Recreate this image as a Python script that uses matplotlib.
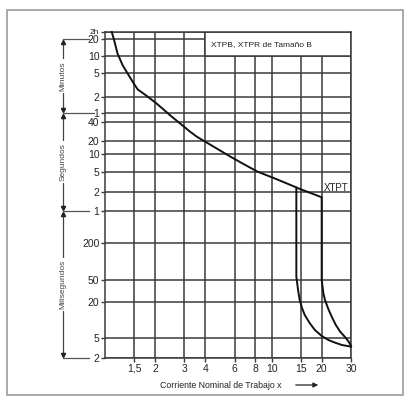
import numpy as np
import matplotlib
matplotlib.use("Agg")
import matplotlib.pyplot as plt
from matplotlib.patches import Rectangle, FancyArrowPatch
from matplotlib.transforms import blended_transform_factory

# ---------------- data ----------------
# x: multiple of rated current; y: trip time in seconds
main_I = [1.098, 1.134, 1.188, 1.274, 1.366, 1.466, 1.572, 1.768, 2.033, 2.230,
          2.449, 2.818, 3.241, 3.559, 4.489, 5.674, 6.834, 8.245, 10.40, 13.76, 14.09]
main_t = [7200, 1151, 670, 416, 296, 215, 160, 127, 91.3, 71.3,
          54.8, 38.1, 28.1, 23.4, 14.8, 9.0, 6.73, 5.06, 3.75, 2.55, 2.45]

outer_I = [20.0, 20.0, 20.48, 20.94, 21.96, 22.99, 24.32, 25.84, 27.71, 29.06, 30.0]
outer_t = [1.65, 0.05, 0.0287, 0.0217, 0.0151, 0.01135, 0.00825, 0.00637,
           0.00514, 0.00422, 0.00347]

inner_I = [14.09, 14.09, 14.43, 14.76, 15.26, 15.83, 16.98, 18.20, 20.0,
           21.96, 24.09, 26.46, 30.0]
inner_t = [2.45, 0.0566, 0.0330, 0.0217, 0.0157, 0.0121, 0.00881, 0.00681,
           0.00541, 0.00456, 0.00403, 0.00363, 0.00336]

x_ticks = [1.5, 2, 3, 4, 6, 8, 10, 15, 20, 30]
x_labels = ["1,5", "2", "3", "4", "6", "8", "10", "15", "20", "30"]

y_ticks = [0.002, 0.005, 0.02, 0.05, 0.2, 1, 2, 5, 10, 20, 40,
           60, 120, 300, 600, 1200, 7200]
y_labels = ["2", "5", "20", "50", "200", "1", "2", "5", "10", "20", "40",
            "1", "2", "5", "10", "20", "2h"]
# drawn position (pixels from top) of each y tick on the original sheet
y_pos = [358, 338, 302, 280, 243, 211, 192, 172, 154, 141, 122,
         113, 97, 73, 56, 39, 32]

series_label = "XTPT"
box_text = "XTPB, XTPR de Tamaño B"
x_title = "Corriente Nominal de Trabajo x"

# ---------------- scale ----------------
_logs = np.log10(np.array(y_ticks, dtype=float))
_ps = -np.array(y_pos, dtype=float)

def fwd(t):
    t = np.asarray(t, dtype=float)
    return np.interp(np.log10(np.clip(t, 1e-6, None)), _logs, _ps)

def inv(p):
    return 10 ** np.interp(np.asarray(p, dtype=float), _ps, _logs)

W, H = 409, 398
fig = plt.figure(figsize=(W / 100, H / 100), dpi=100)
plt.rcParams['font.family'] = ['Liberation Sans', 'DejaVu Sans']

L, R, T, B = 105, 351, 32, 358
ax = fig.add_axes([L / W, 1 - B / H, (R - L) / W, (B - T) / H])
ax.set_xscale('log')
ax.set_yscale('function', functions=(fwd, inv))
ax.set_xlim(1, 30)
ax.set_ylim(0.002, 7200)

grid_c = '#3a3a3a'
for xt in x_ticks:
    ax.axvline(xt, color=grid_c, lw=1.1, zorder=1)
for yt in y_ticks:
    ax.axhline(yt, color=grid_c, lw=1.1, zorder=1)

ax.set_xticks(x_ticks)
ax.set_xticklabels(x_labels)
ax.xaxis.set_minor_locator(matplotlib.ticker.NullLocator())
ax.set_yticks(y_ticks)
ax.set_yticklabels(y_labels)
ax.yaxis.set_minor_locator(matplotlib.ticker.NullLocator())
ax.tick_params(axis='both', length=3, width=1, color=grid_c,
               labelsize=7.5, pad=1, labelcolor='#222222')
ax.get_yticklabels()[-1].set_fontsize(6)
for s in ax.spines.values():
    s.set_color(grid_c)
    s.set_linewidth(1.1)

# title box at upper right (covers grid)
box = Rectangle((4, 600), 30 - 4, 7200 - 600, transform=ax.transData,
                facecolor='white', edgecolor=grid_c, lw=1.1, zorder=2)
ax.add_patch(box)
ax.text(4.35, inv((fwd(600) + fwd(7200)) / 2 - 0.5), box_text,
        fontsize=6, va='center', ha='left', color='#222222', zorder=3)

# curves
ax.plot(main_I + outer_I, main_t + outer_t, color='#111111', lw=1.4,
        zorder=4, clip_on=False, solid_joinstyle='round')
ax.plot(inner_I, inner_t, color='#111111', lw=1.4, zorder=4,
        clip_on=False, solid_joinstyle='round')
ax.text(20.6, 2.45, series_label, fontsize=7, ha='left', va='center',
        color='#222222', zorder=5)

# left bracket annotations
tr = blended_transform_factory(ax.transAxes, ax.transData)
xb = (63 - L) / (R - L)
xh_end = (89 - L) / (R - L)
brackets = [("Minutos", 1200, 60), ("Segundos", 60, 1), ("Milisegundos", 1, 0.002)]
for name, hi, lo in brackets:
    p_hi = fwd(hi) - 3
    p_lo = fwd(lo) + 3
    ax.plot([xb, xb], [inv(p_hi), inv(p_lo)], transform=tr, color='#444444',
            lw=0.9, clip_on=False)
    ax.plot([xb], [inv(p_hi)], marker='^', ms=3, color='#222222',
            transform=tr, clip_on=False)
    ax.plot([xb], [inv(p_lo)], marker='v', ms=3, color='#222222',
            transform=tr, clip_on=False)
    ax.text(xb, inv((fwd(hi) + fwd(lo)) / 2), name, rotation=90,
            transform=tr, ha='center', va='center', fontsize=6,
            color='#444444', clip_on=False,
            bbox=dict(facecolor='white', edgecolor='none', pad=1.5))
for yv in [1200, 60, 1, 0.002]:
    ax.plot([xb, xh_end + (0.02 if yv == 60 else 0)], [yv, yv], transform=tr,
            color='#555555', lw=0.9, clip_on=False)

# x title with arrow
fig.text(160 / W, 1 - 385 / H, x_title, fontsize=6.3, ha='left', va='center',
         color='#222222')
fig.add_artist(FancyArrowPatch(
    (293 / W, 1 - 385 / H), (321 / W, 1 - 385 / H), transform=fig.transFigure,
    arrowstyle='-|>', mutation_scale=7, color='#222222', lw=0.9))

# outer frame
fig.add_artist(Rectangle((7 / W, 1 - 395 / H), (403 - 7) / W, (395 - 10) / H,
                         transform=fig.transFigure, facecolor='none',
                         edgecolor='#999999', lw=1.2))

fig.savefig('out.png', dpi=100)
